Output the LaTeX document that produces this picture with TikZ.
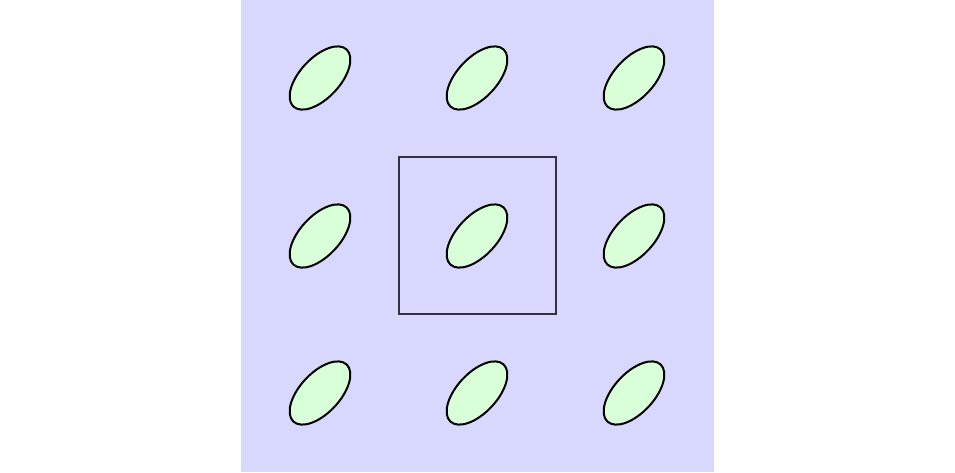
\documentclass[tikz,border=0pt]{standalone}
\usetikzlibrary{shapes.geometric}
\definecolor{bgblue}{RGB}{216,216,255}
\definecolor{cellgreen}{RGB}{216,255,216}
\definecolor{boxgray}{RGB}{50,50,60}
\tikzset{
  cell/.style={ellipse, draw=black, line width=2pt, fill=cellgreen, minimum width=78pt, minimum height=40pt, inner sep=0pt, rotate=47},
  frame/.style={draw=boxgray, line width=1.2pt, minimum width=157pt, minimum height=157pt, inner sep=0pt}
}
\begin{document}
\begin{tikzpicture}[x=1pt,y=-1pt]
\useasboundingbox (0,0) rectangle (955,472);
\fill[bgblue] (241,0) rectangle (714,472);
\node[frame] (sq) at (477.5,235.5) {};
\foreach \i/\x in {1/320,2/477,3/634}{
  \foreach \j/\y in {1/78,2/236,3/393}{
    \node[cell] (e\i\j) at (\x,\y) {};
  }
}
\end{tikzpicture}
\end{document}
